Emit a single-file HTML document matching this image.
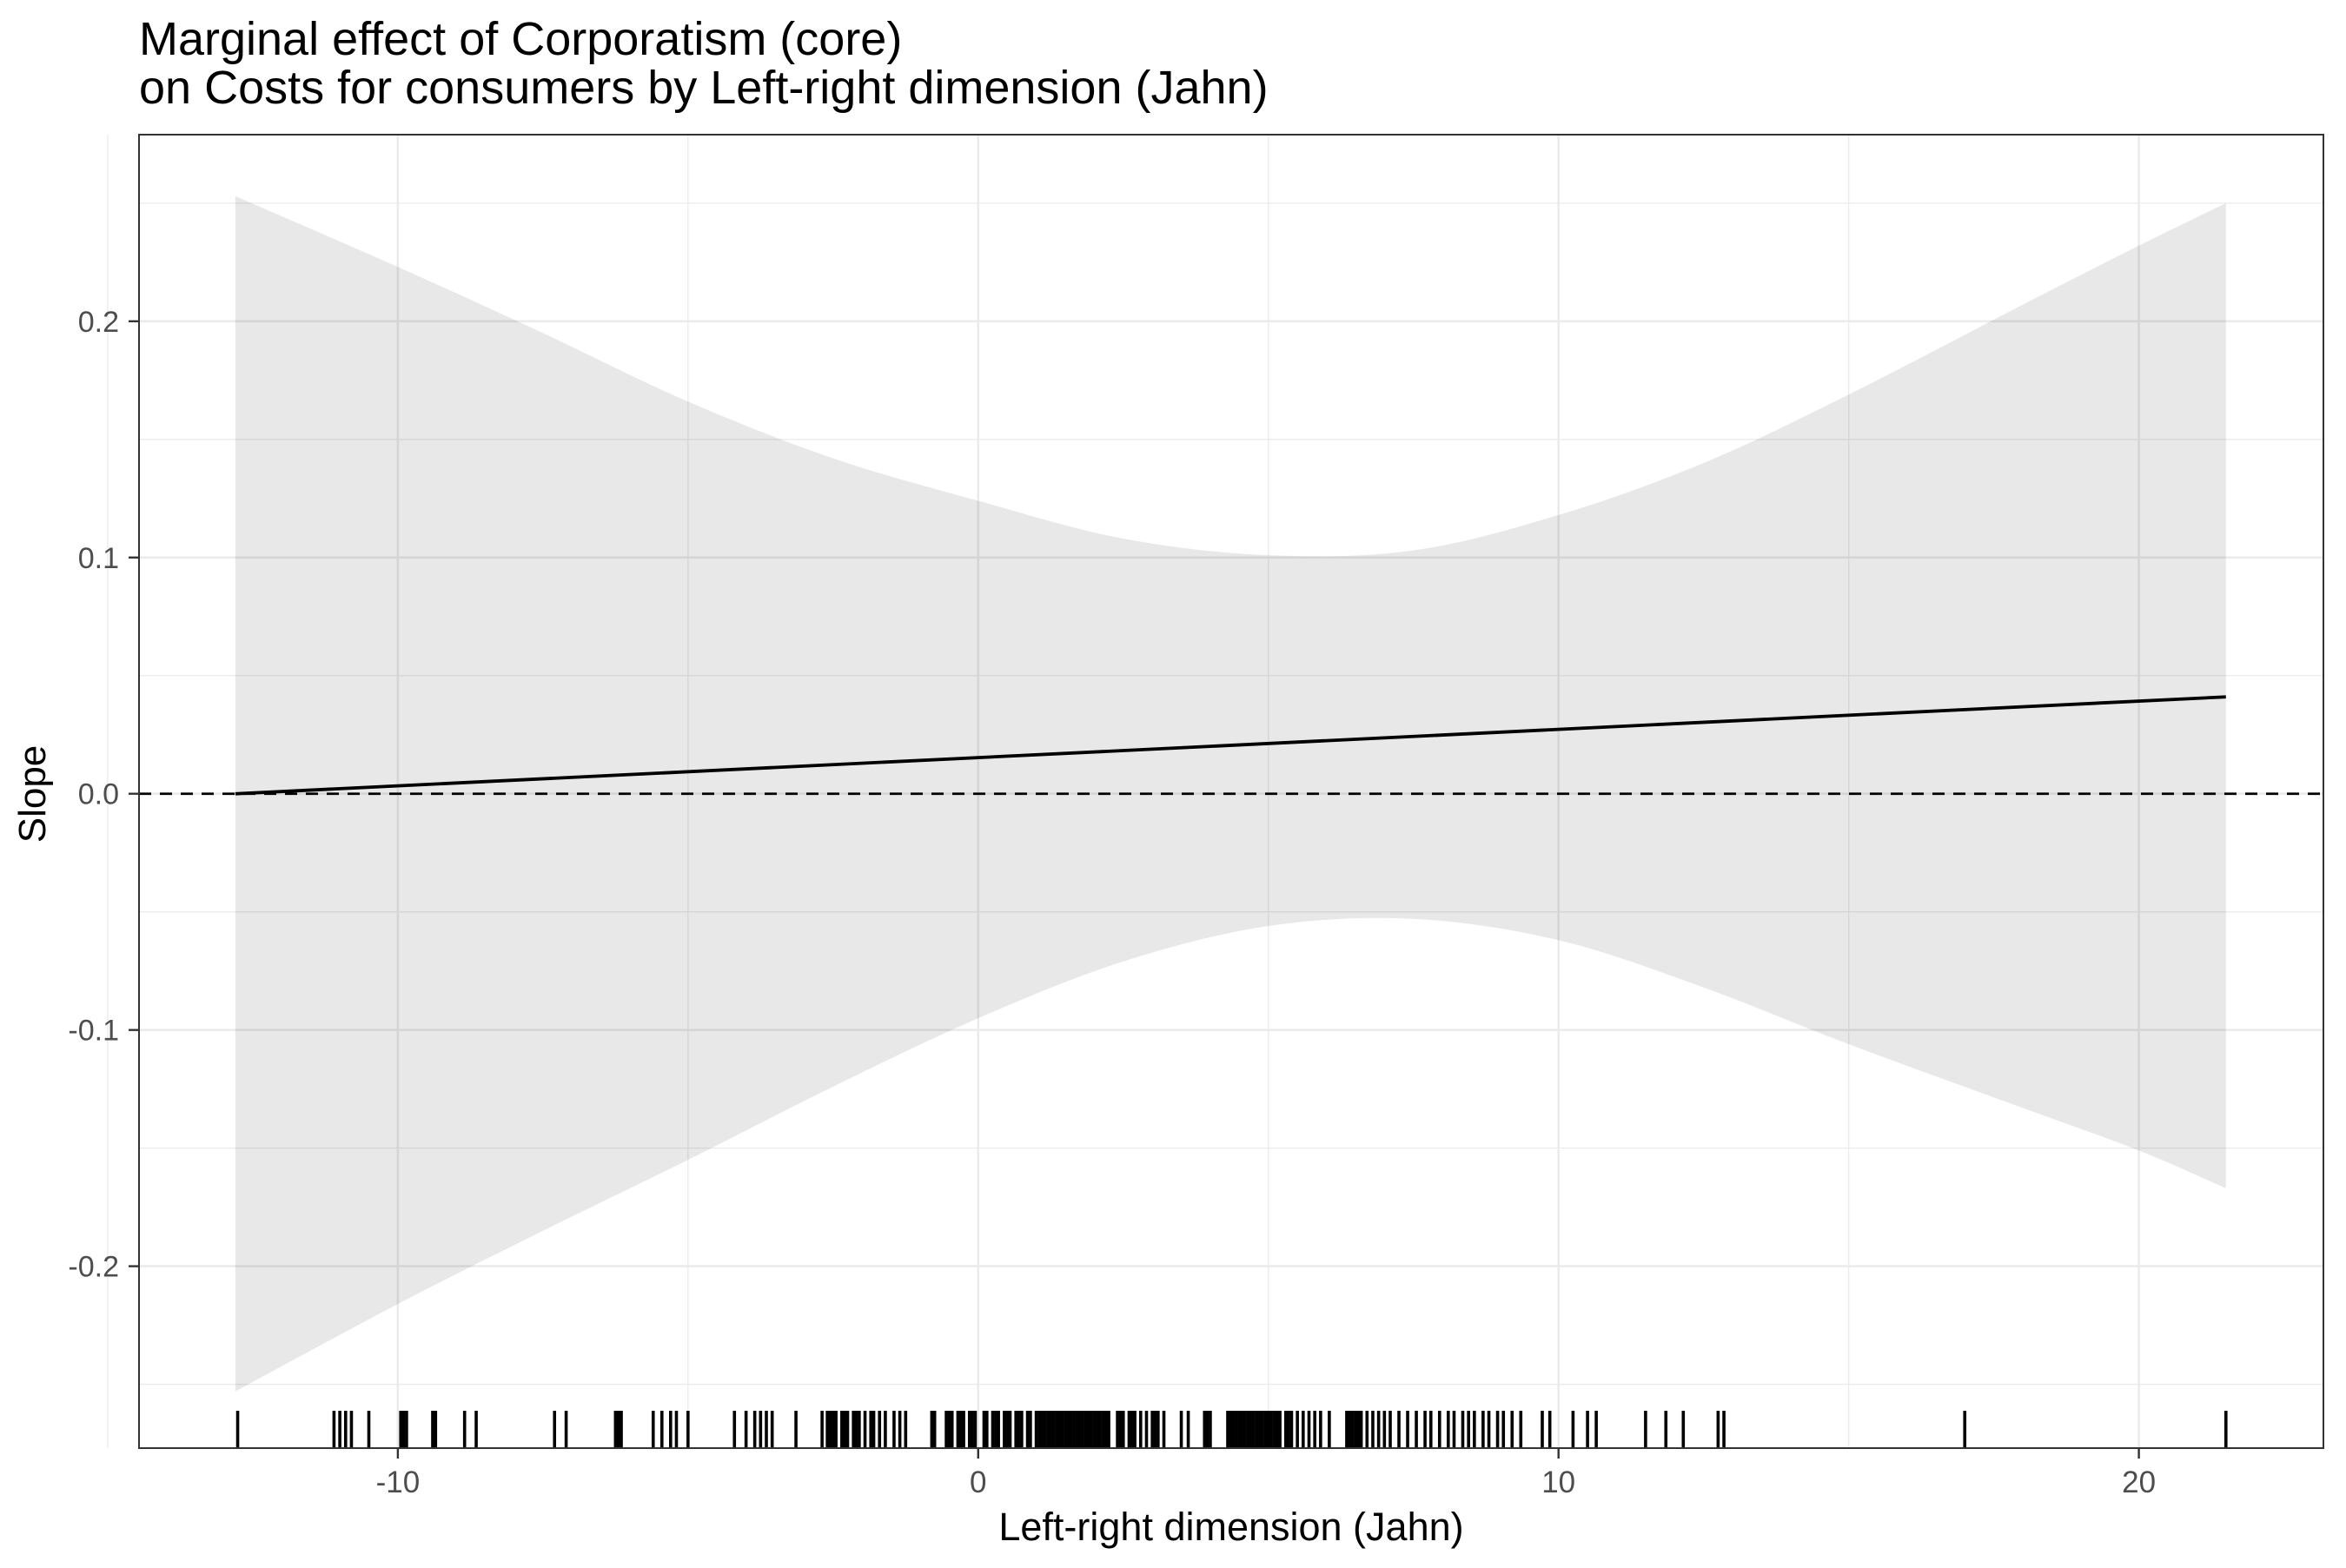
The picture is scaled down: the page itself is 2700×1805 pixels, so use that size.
<!DOCTYPE html>
<html><head><meta charset="utf-8"><style>
html,body{margin:0;padding:0;background:#fff;}
svg text{font-family:"Liberation Sans",Arial,sans-serif;}
</style></head><body>
<svg id="chart" width="2700" height="1800" xmlns="http://www.w3.org/2000/svg">
<rect width="2700" height="1800" fill="#fff"/>
<text x="160" y="63" font-size="54" fill="#000">Marginal effect of Corporatism (core)</text>
<text x="160" y="119" font-size="54" fill="#000">on Costs for consumers by Left-right dimension (Jahn)</text>
<g id="grid"></g>
<g id="band"></g>
<g id="lines"></g>
<g id="rug"></g>
<g id="axes"></g>
<text x="1417" y="1773" font-size="45" text-anchor="middle" fill="#000">Left-right dimension (Jahn)</text>
<text transform="translate(52,914) rotate(-90)" font-size="44" text-anchor="middle" fill="#000">Slope</text>
</svg>
<script>
const xTicks = [-10, 0, 10, 20];
const xMinor = [-15, -5, 5, 15];
const yTicks = [-0.2, -0.1, 0.0, 0.1, 0.2];
const yTickLabels = ["-0.2", "-0.1", "0.0", "0.1", "0.2"];
const yMinor = [-0.25, -0.15, -0.05, 0.05, 0.15, 0.25];
const lineX = [-12.8, 21.5];
const lineY = [0.0, 0.041];
const bandX = [-12.8, -10, -7.5, -5, -2.5, 0, 2.5, 5, 7.5, 10, 12.5, 15, 18, 20, 21.5];
const bandUpper = [0.253, 0.223, 0.195, 0.166, 0.142, 0.124, 0.108, 0.101, 0.103, 0.118, 0.140, 0.169, 0.207, 0.232, 0.250];
const bandLower = [-0.253, -0.216, -0.185, -0.155, -0.124, -0.095, -0.071, -0.056, -0.053, -0.062, -0.082, -0.106, -0.133, -0.151, -0.167];
const rugValues = [-12.76,-11.1,-11.0,-10.9,-10.8,-10.5,-9.95,-9.9,-9.85,-9.4,-9.35,-8.85,-8.65,-7.3,-7.1,-6.25,-6.2,-6.15,-5.6,-5.45,-5.3,-5.2,-5.0,-4.2,-4.0,-3.85,-3.75,-3.65,-3.55,-3.14,
-2.69,-2.6,-2.55,-2.5,-2.45,-2.35,-2.3,-2.25,-2.15,-2.1,-2.05,-1.95,-1.85,-1.8,-1.7,-1.6,-1.45,-1.35,-1.25,-0.8,-0.75,-0.55,-0.5,-0.45,-0.35,-0.3,-0.25,-0.15,-0.1,-0.05,0.1,0.15,0.25,0.3,0.35,0.45,0.5,0.55,0.65,0.7,0.75,0.85,0.9,
1.0,1.05,1.1,1.15,1.2,1.25,1.3,1.35,1.4,1.45,1.5,1.55,1.6,1.65,1.7,1.75,1.8,1.85,1.9,1.95,2.0,2.05,2.1,2.15,2.2,2.25,2.4,2.45,2.5,2.6,2.65,2.7,2.8,2.9,3.0,3.05,3.1,3.2,3.5,3.62,3.9,3.95,4.0,
4.3,4.35,4.4,4.45,4.5,4.55,4.6,4.65,4.7,4.75,4.8,4.85,4.9,4.95,5.0,5.05,5.1,5.15,5.2,5.3,5.35,5.4,5.5,5.6,5.7,5.8,5.9,6.05,6.35,6.4,6.45,6.5,6.55,6.6,6.7,6.8,6.9,7.0,7.1,
7.25,7.4,7.55,7.7,7.8,7.95,8.1,8.2,8.35,8.45,8.55,8.7,8.8,8.95,9.05,9.2,9.35,9.72,9.85,10.25,10.5,10.65,11.5,11.85,12.15,12.75,12.85,17.0,21.5];

const NS = "http://www.w3.org/2000/svg";
const L = 160, R = 2674, T = 155, B = 1667;
const xMin = -14.46, xMax = 23.18, yMin = -0.277, yMax = 0.279;
function sx(v){ return L + (v - xMin) / (xMax - xMin) * (R - L); }
function sy(v){ return B - (v - yMin) / (yMax - yMin) * (B - T); }
function mk(tag, attrs, parent){ const e = document.createElementNS(NS, tag); for (const k in attrs) e.setAttribute(k, attrs[k]); parent.appendChild(e); return e; }
function spline(p){
  let d = 'M' + p[0][0].toFixed(1) + ',' + p[0][1].toFixed(1);
  for (let i = 0; i < p.length - 1; i++) {
    const p0 = p[Math.max(0,i-1)], p1 = p[i], p2 = p[i+1], p3 = p[Math.min(p.length-1,i+2)];
    const c1 = [p1[0] + (p2[0]-p0[0])/6, p1[1] + (p2[1]-p0[1])/6];
    const c2 = [p2[0] - (p3[0]-p1[0])/6, p2[1] - (p3[1]-p1[1])/6];
    d += ' C' + c1[0].toFixed(1)+','+c1[1].toFixed(1)+' '+c2[0].toFixed(1)+','+c2[1].toFixed(1)+' '+p2[0].toFixed(1)+','+p2[1].toFixed(1);
  }
  return d;
}

const grid = document.getElementById('grid');
xMinor.forEach(v => { const e = mk('line', {x1:sx(v), x2:sx(v), y1:T, y2:B, stroke:'#ebebeb', 'stroke-width':1.3}, grid);
  
   });
yMinor.forEach(v => { const e = mk('line', {x1:L, x2:R, y1:sy(v), y2:sy(v), stroke:'#ebebeb', 'stroke-width':1.3}, grid);
  
   });
xTicks.forEach(v => { const e = mk('line', {x1:sx(v), x2:sx(v), y1:T, y2:B, stroke:'#ebebeb', 'stroke-width':2.6}, grid);
  
   });
yTicks.forEach(v => { const e = mk('line', {x1:L, x2:R, y1:sy(v), y2:sy(v), stroke:'#ebebeb', 'stroke-width':2.6}, grid);
  
   });

const band = document.getElementById('band');
const up = bandX.map((x,i) => [sx(x), sy(bandUpper[i])]);
const lo = bandX.map((x,i) => [sx(x), sy(bandLower[i])]).reverse();
const dLo = spline(lo).replace(/^M/, 'L');
const path = mk('path', {d: spline(up) + ' ' + dLo + ' Z', fill:'#000', 'fill-opacity':0.09, stroke:'none'}, band);



const lines = document.getElementById('lines');
const zl = mk('line', {x1:L, x2:R, y1:sy(0), y2:sy(0), stroke:'#000', 'stroke-width':2.8, 'stroke-dasharray':'14 10'}, lines);


const sl = mk('polyline', {points: lineX.map((x,i)=>sx(x)+','+sy(lineY[i])).join(' '), fill:'none', stroke:'#000', 'stroke-width':3.8}, lines);



const rug = document.getElementById('rug');
rugValues.forEach(v => { const e = mk('line', {x1:sx(v), x2:sx(v), y1:1624, y2:B, stroke:'#000', 'stroke-width':3.6}, rug);
  
   });

const axes = document.getElementById('axes');
const fr = mk('rect', {x:L, y:T, width:R-L, height:B-T, fill:'none', stroke:'#333', 'stroke-width':2}, axes);


xTicks.forEach(v => {
  const t = mk('line', {x1:sx(v), x2:sx(v), y1:B, y2:B+12, stroke:'#333', 'stroke-width':2.4}, axes);
  
  
  const lb = mk('text', {x:sx(v), y:1718, 'font-size':35, 'text-anchor':'middle', fill:'#4d4d4d'}, axes);
  lb.textContent = String(v);
  
  
});
yTicks.forEach((v,i) => {
  const t = mk('line', {x1:L-12, x2:L, y1:sy(v), y2:sy(v), stroke:'#333', 'stroke-width':2.4}, axes);
  
  
  const lb = mk('text', {x:137, y:sy(v)+12, 'font-size':34, 'text-anchor':'end', fill:'#4d4d4d'}, axes);
  lb.textContent = yTickLabels[i];
  
  
});
</script>
</body></html>
